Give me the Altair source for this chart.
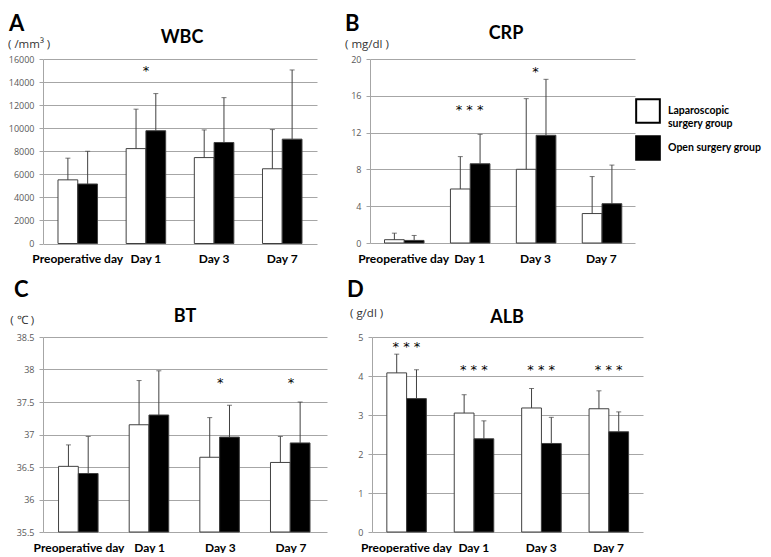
import altair as alt
import pandas as pd

days = ["Preoperative day", "Day 1", "Day 3", "Day 7"]
groups = ["Laparoscopic surgery group", "Open surgery group"]

# WBC (/mm3)
wbc_lap = [5520, 8230, 7450, 6480]
wbc_lap_top = [7400, 11650, 9850, 9880]
wbc_open = [5160, 9780, 8760, 9050]
wbc_open_top = [8000, 13000, 12650, 15050]
wbc_star_days = ["Day 1"]
wbc_star_vals = [15200]
wbc_star_txt = ["*"]

# CRP (mg/dl)
crp_lap = [0.36, 5.87, 8.01, 3.20]
crp_lap_top = [1.07, 9.39, 15.69, 7.22]
crp_open = [0.28, 8.61, 11.71, 4.27]
crp_open_top = [0.82, 11.81, 17.79, 8.47]
crp_star_days = ["Day 1", "Day 3"]
crp_star_vals = [14.77, 18.93]
crp_star_txt = ["* * *", "*"]

# BT (deg C)
bt_lap = [36.51, 37.15, 36.65, 36.57]
bt_lap_top = [36.84, 37.83, 37.26, 36.97]
bt_open = [36.40, 37.30, 36.96, 36.87]
bt_open_top = [36.97, 37.98, 37.45, 37.50]
bt_star_days = ["Day 3", "Day 7"]
bt_star_vals = [37.84, 37.84]
bt_star_txt = ["*", "*"]

# ALB (g/dl)
alb_lap = [4.08, 3.05, 3.18, 3.16]
alb_lap_top = [4.56, 3.52, 3.68, 3.62]
alb_open = [3.42, 2.39, 2.27, 2.57]
alb_open_top = [4.16, 2.85, 2.94, 3.08]
alb_star_days = ["Preoperative day", "Day 1", "Day 3", "Day 7"]
alb_star_vals = [4.83, 4.24, 4.24, 4.24]
alb_star_txt = ["* * *", "* * *", "* * *", "* * *"]

GRID = "#a6a6a6"
LINE = "#404040"


def panel(letter, title, unit, lap, lap_top, opn, opn_top, sdays, svals, stxt,
          domain, ticks, fmt, w, h, pos, legend=False):
    df = pd.DataFrame({
        "day": days * 2,
        "group": [groups[0]] * 4 + [groups[1]] * 4,
        "mean": lap + opn,
        "top": lap_top + opn_top,
    })
    sdf = pd.DataFrame({"day": sdays, "val": svals, "txt": stxt})
    yax = alt.Axis(values=ticks, format=fmt, title=None)
    ysc = alt.Scale(domain=domain, nice=False, zero=False)
    xenc = alt.X("day:N", sort=days, title=None,
                 scale=alt.Scale(paddingInner=0.42, paddingOuter=0.22))
    xoff = alt.XOffset("group:N", sort=groups,
                       scale=alt.Scale(paddingInner=0, paddingOuter=0))
    if legend:
        leg = alt.Legend(
            orient="none", legendX=pos["lx"], legendY=pos["ly"], title=None,
            symbolType="square", symbolSize=560, symbolStrokeColor="black",
            symbolStrokeWidth=2, labelFont="Lato", labelFontWeight="bold",
            labelFontSize=10.5, labelColor="black", labelOffset=7,
            labelLimit=300, rowPadding=3, padding=0,
            labelExpr="datum.label == 'Laparoscopic surgery group' ? ['Laparoscopic', 'surgery group'] : datum.label",
        )
    else:
        leg = None
    base = alt.Chart(df)
    bars = base.mark_bar(stroke=LINE, strokeWidth=1).encode(
        x=xenc, xOffset=xoff,
        y=alt.Y("mean:Q", scale=ysc, axis=yax),
        y2=alt.datum(domain[0]),
        fill=alt.Fill("group:N", sort=groups,
                      scale=alt.Scale(domain=groups, range=["white", "black"]),
                      legend=leg),
    )
    err = base.mark_rule(color=LINE, strokeWidth=1).encode(
        x=xenc, xOffset=xoff,
        y=alt.Y("mean:Q", scale=ysc, axis=yax), y2="top:Q",
    )
    cap = base.mark_tick(orient="horizontal", size=5, thickness=1, color=LINE).encode(
        x=xenc, xOffset=xoff,
        y=alt.Y("top:Q", scale=ysc, axis=yax),
    )
    stars = alt.Chart(sdf).mark_text(
        font="DejaVu Sans", fontSize=13, color="black",
        baseline="alphabetic", dy=7,
    ).encode(x=xenc, y=alt.Y("val:Q", scale=ysc, axis=yax), text="txt:N")

    def label(txt, x, y, size, weight, font, color, align="left", baseline="alphabetic"):
        return alt.Chart(pd.DataFrame({"t": [txt]})).mark_text(
            align=align, baseline=baseline, fontSize=size,
            fontWeight=weight, font=font, color=color,
        ).encode(x=alt.value(x), y=alt.value(y), text="t:N")

    lt = label(letter, pos["letter"][0], pos["letter"][1], 22, "bold", "Lato", "black",
               baseline="top")
    un = label(unit, pos["unit"][0], pos["unit"][1], 11.5, "normal", "Open Sans", "#333333")
    ti = label(title, pos["title"][0], pos["title"][1], 18, "bold", "Lato", "black",
               align="center")
    return alt.layer(bars, err, cap, stars, lt, un, ti).properties(width=w, height=h)


A = panel("A", "WBC", "( /mm³ )", wbc_lap, wbc_lap_top, wbc_open, wbc_open_top,
          wbc_star_days, wbc_star_vals, wbc_star_txt,
          [0, 16000], list(range(0, 16001, 2000)), "d", 274, 184.5,
          {"letter": (-34, -45.5), "unit": (-35, -11.5), "title": (139, -16.5)})
B = panel("B", "CRP", "( mg/dl )", crp_lap, crp_lap_top, crp_open, crp_open_top,
          crp_star_days, crp_star_vals, crp_star_txt,
          [0, 20], [0, 4, 8, 12, 16, 20], "d", 265, 184,
          {"letter": (-25, -45.5), "unit": (-25, -11.5), "title": (136, -20.5),
           "lx": 265, "ly": 39}, legend=True)
C = panel("C", "BT", "( ℃ )", bt_lap, bt_lap_top, bt_open, bt_open_top,
          bt_star_days, bt_star_vals, bt_star_txt,
          [35.5, 38.5], [35.5, 36, 36.5, 37, 37.5, 38, 38.5], "~g", 284, 195,
          {"letter": (-29, -56.7), "unit": (-32.7, -13.5), "title": (142, -15.5)})
D = panel("D", "ALB", "( g/dl )", alb_lap, alb_lap_top, alb_open, alb_open_top,
          alb_star_days, alb_star_vals, alb_star_txt,
          [0, 5], [0, 1, 2, 3, 4, 5], "d", 271, 195,
          {"letter": (-25, -56.7), "unit": (-22, -20), "title": (135, -14)})

row1 = alt.hconcat(A, B, spacing=28).resolve_scale(fill="independent").resolve_legend(fill="independent")
row2 = alt.hconcat(C, D, spacing=20).resolve_scale(fill="independent").resolve_legend(fill="independent")

chart = alt.vconcat(row1, row2, spacing=14).resolve_scale(
    fill="independent").resolve_legend(fill="independent").properties(
    padding={"left": 0, "top": 4, "right": 0, "bottom": 0}
).configure_view(stroke=None).configure_axisY(
    domainColor=GRID, tickColor=GRID, tickSize=4, gridColor=GRID, grid=True,
    labelFont="Open Sans", labelFontSize=9, labelColor="#595959", labelPadding=5,
).configure_axisX(
    domain=False, ticks=False, tickSize=0, grid=False, labelAngle=0, labelFont="Lato",
    labelFontWeight="bold", labelFontSize=12, labelColor="black", labelPadding=10,
)

chart.save("out.html", embed_options={"renderer": "svg", "actions": False})
